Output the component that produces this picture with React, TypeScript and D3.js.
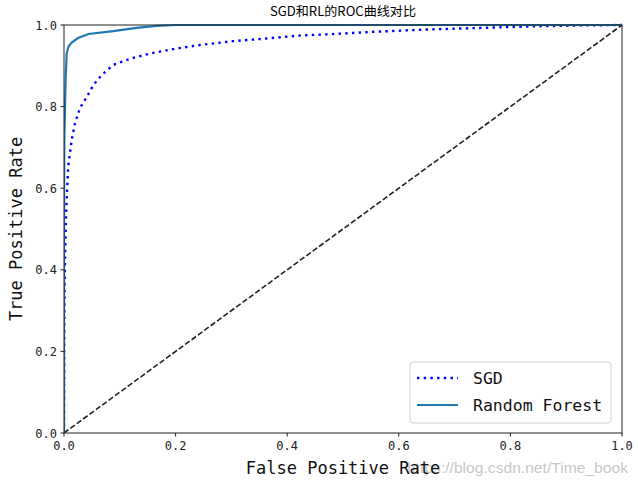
import React from "react";
import * as d3 from "d3";

const sgdFpr = [0, 0.0003, 0.0008, 0.0018, 0.0036, 0.006, 0.0077, 0.0095, 0.0138, 0.0197, 0.0287, 0.041, 0.0526, 0.0675, 0.088, 0.12, 0.154, 0.2, 0.244, 0.3, 0.363, 0.42, 0.47, 0.55, 0.65, 0.75, 0.85, 0.93, 1.0];
const sgdTpr = [0, 0.2, 0.33, 0.424, 0.534, 0.608, 0.655, 0.675, 0.718, 0.759, 0.797, 0.824, 0.853, 0.877, 0.902, 0.918, 0.93, 0.942, 0.951, 0.96, 0.967, 0.974, 0.977, 0.983, 0.989, 0.993, 0.997, 0.999, 1.0];
const rfFpr = [0, 0, 0.0005, 0.0018, 0.003, 0.0048, 0.008, 0.0138, 0.025, 0.044, 0.088, 0.13, 0.166, 0.2, 1.0];
const rfTpr = [0, 0.5, 0.72, 0.8, 0.87, 0.93, 0.947, 0.957, 0.968, 0.978, 0.985, 0.993, 0.998, 1.0, 1.0];
const diagonal = [0, 1];
const ticks = [0, 0.2, 0.4, 0.6, 0.8, 1.0];
const seriesNames = ["SGD", "Random Forest"];
const title = "SGD和RL的ROC曲线对比";
const xLabel = "False Positive Rate";
const yLabel = "True Positive Rate";
const watermark = "https://blog.csdn.net/Time_book";

const W = 638, H = 484;
const L = 64, R = 622, T = 25, B = 433;
const mono = "'DejaVu Sans Mono', monospace";

export default function App() {
  const x = d3.scaleLinear().domain([0, 1]).range([L, R]);
  const y = d3.scaleLinear().domain([0, 1]).range([B, T]);
  const line = d3.line<[number, number]>().x(d => x(d[0])).y(d => y(d[1]));
  const sgd = line(sgdFpr.map((f, i) => [f, sgdTpr[i]] as [number, number]))!;
  const rf = line(rfFpr.map((f, i) => [f, rfTpr[i]] as [number, number]))!;
  const diag = line(diagonal.map(v => [v, v] as [number, number]))!;

  return (
    <svg width={W} height={H} style={{ position: "absolute", left: 0, top: 0, background: "#fff" }}>
      <defs>
        <clipPath id="plot"><rect x={L} y={T - 2} width={R - L + 2} height={B - T + 2} /></clipPath>
      </defs>
      <text x={(L + R) / 2} y={16} textAnchor="middle" fontFamily="'Noto Sans CJK SC'" fontSize={12.5} textLength={146} lengthAdjust="spacingAndGlyphs">{title}</text>
      <g clipPath="url(#plot)">
        <path d={diag} fill="none" stroke="#222" strokeWidth={1.6} strokeDasharray="5.5 2.4" />
        <path d={sgd} fill="none" stroke="#0000ff" strokeWidth={2.4} strokeDasharray="2.4 4.3" />
        <path d={rf} fill="none" stroke="#1f77b4" strokeWidth={2.2} />
      </g>
      <rect x={L} y={T} width={R - L} height={B - T} fill="none" stroke="#222" strokeWidth={1} />
      {ticks.map(t => (
        <g key={"x" + t}>
          <line x1={x(t)} x2={x(t)} y1={B} y2={B + 3.5} stroke="#222" />
          <text x={x(t)} y={B + 17} textAnchor="middle" fontFamily={mono} fontSize={12} fill="#222">{t.toFixed(1)}</text>
        </g>
      ))}
      {ticks.map(t => (
        <g key={"y" + t}>
          <line x1={L - 3.5} x2={L} y1={y(t)} y2={y(t)} stroke="#222" />
          <text x={L - 7} y={y(t) + 4.5} textAnchor="end" fontFamily={mono} fontSize={12} fill="#222">{t.toFixed(1)}</text>
        </g>
      ))}
      <text x={628} y={473} textAnchor="end" fontFamily="'Liberation Sans', Arial" fontSize={15} fill="#bbb" opacity={0.8} textLength={221} lengthAdjust="spacingAndGlyphs">{watermark}</text>
      <text x={(L + R) / 2} y={474} textAnchor="middle" fontFamily={mono} fontSize={17} fill="#111">{xLabel}</text>
      <text transform={`translate(22, ${(T + B) / 2}) rotate(-90)`} textAnchor="middle" fontFamily={mono} fontSize={17} fill="#111">{yLabel}</text>
      <g>
        <rect x={410} y={362} width={201} height={61} rx={3} fill="#fff" fillOpacity={0.8} stroke="#d0d0d0" />
        <line x1={417} x2={458} y1={378} y2={378} stroke="#0000ff" strokeWidth={2.4} strokeDasharray="2.4 4.3" />
        <text x={473} y={384} fontFamily={mono} fontSize={16.5} fill="#111">{seriesNames[0]}</text>
        <line x1={417} x2={458} y1={405} y2={405} stroke="#1f77b4" strokeWidth={2.2} />
        <text x={473} y={411} fontFamily={mono} fontSize={16.5} fill="#111">{seriesNames[1]}</text>
      </g>
    </svg>
  );
}
